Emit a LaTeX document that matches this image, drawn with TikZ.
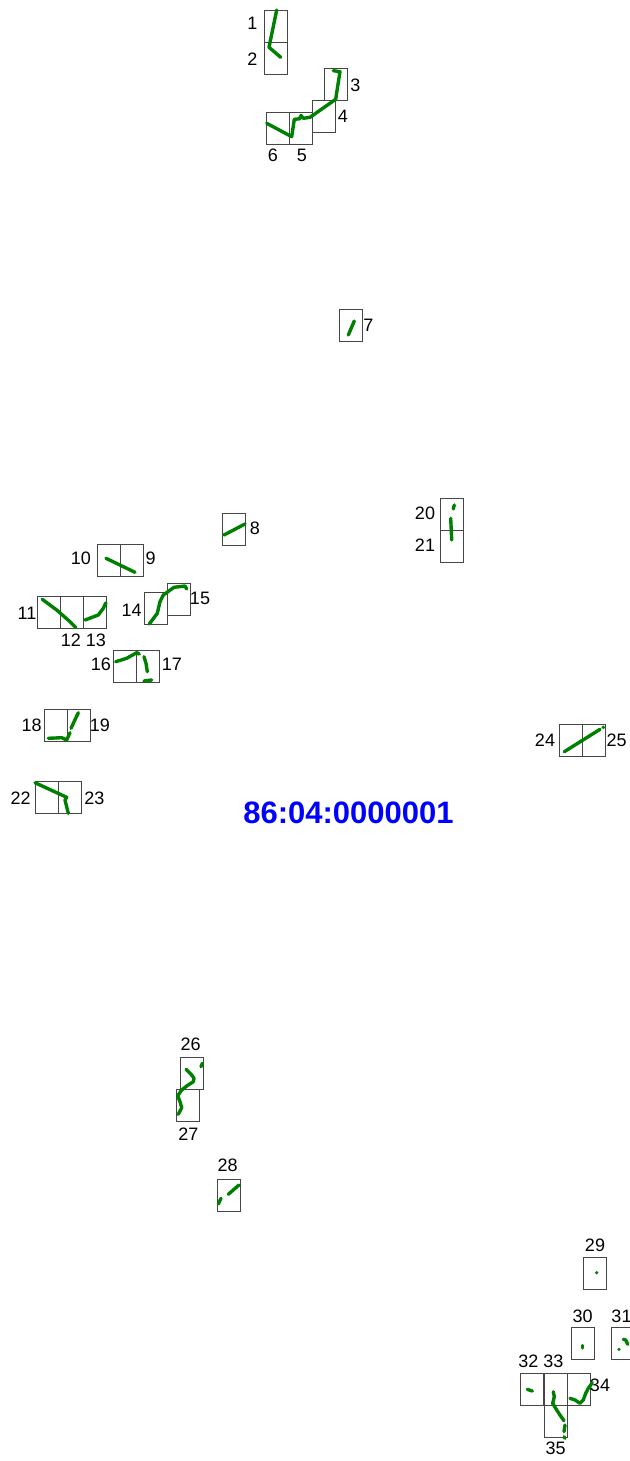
\documentclass[tikz,border=0pt]{standalone}
\usepackage{fontspec}
\setmainfont{Liberation Sans}
\definecolor{trk}{RGB}{0,128,0}
\definecolor{boxline}{RGB}{70,70,70}
\definecolor{idblue}{RGB}{0,0,255}
\tikzset{
  cell/.style={draw=boxline, line width=1pt, rectangle, minimum width=23pt, minimum height=32pt, inner sep=0pt},
  lbl/.style={font=\fontsize{18}{20}\selectfont, inner sep=0pt, text=black},
  track/.style={draw=trk, line width=3.4pt, line cap=round, line join=round},
  tdot/.style={fill=trk},
  idtext/.style={font=\fontsize{31}{35}\selectfont\bfseries, text=idblue, inner sep=0pt}
}
\begin{document}
\begin{tikzpicture}[x=1pt,y=-1pt]
\useasboundingbox (0,0) rectangle (629,1461);
% boxes
\node[cell] (b1) at (275.7,26.2) {};
\node[cell] (b2) at (275.7,58.2) {};
\node[cell] (b3) at (335.5,84.2) {};
\node[cell] (b4) at (324.2,116.3) {};
\node[cell] (b5) at (300.7,128.7) {};
\node[cell] (b6) at (277.8,128.7) {};
\node[cell] (b7) at (350.8,325.3) {};
\node[cell] (b8) at (234,529.2) {};
\node[cell] (b10) at (109,560.2) {};
\node[cell] (b9) at (132,560.2) {};
\node[cell] (b11) at (48.9,612.8) {};
\node[cell] (b12) at (71.9,612.8) {};
\node[cell] (b13) at (94.9,612.8) {};
\node[cell] (b14) at (155.8,608.2) {};
\node[cell] (b15) at (179.2,599.2) {};
\node[cell] (b16) at (124.9,666.5) {};
\node[cell] (b17) at (147.9,666.5) {};
\node[cell] (b18) at (55.8,725.5) {};
\node[cell] (b19) at (78.8,725.5) {};
\node[cell] (b20) at (452,514) {};
\node[cell] (b21) at (452,546.5) {};
\node[cell] (b22) at (46.7,797.5) {};
\node[cell] (b23) at (69.7,797.5) {};
\node[cell] (b24) at (571.3,740.3) {};
\node[cell] (b25) at (594.3,740.3) {};
\node[cell] (b26) at (192,1073) {};
\node[cell] (b27) at (187.7,1105.2) {};
\node[cell] (b28) at (228.7,1195) {};
\node[cell] (b29) at (594.7,1273.7) {};
\node[cell] (b30) at (583,1343.4) {};
\node[cell] (b31) at (622.5,1343.4) {};
\node[cell] (b32) at (532.3,1389.2) {};
\node[cell] (b33) at (555.6,1389.2) {};
\node[cell] (b34) at (578.9,1389.2) {};
\node[cell] (b35) at (555.6,1421.4) {};
% labels
\node[lbl] (l1) at (252.5,23) {1};
\node[lbl] (l2) at (252.5,59) {2};
\node[lbl] (l3) at (355.5,85) {3};
\node[lbl] (l4) at (343,116) {4};
\node[lbl] (l5) at (302,155) {5};
\node[lbl] (l6) at (273,155) {6};
\node[lbl] (l7) at (368.5,325) {7};
\node[lbl] (l8) at (255,528) {8};
\node[lbl] (l9) at (150.7,558) {9};
\node[lbl] (l10) at (81,558) {10};
\node[lbl] (l11) at (27,613) {11};
\node[lbl] (l12) at (71,640.7) {12};
\node[lbl] (l13) at (96,640.7) {13};
\node[lbl] (l14) at (131.7,610) {14};
\node[lbl] (l15) at (200,598) {15};
\node[lbl] (l16) at (101,664) {16};
\node[lbl] (l17) at (172,664) {17};
\node[lbl] (l18) at (31.7,725) {18};
\node[lbl] (l19) at (100,725) {19};
\node[lbl] (l20) at (425,513) {20};
\node[lbl] (l21) at (425,545) {21};
\node[lbl] (l22) at (20.7,798) {22};
\node[lbl] (l23) at (94.3,798) {23};
\node[lbl] (l24) at (545,740) {24};
\node[lbl] (l25) at (616.7,740) {25};
\node[lbl] (l26) at (190.7,1044) {26};
\node[lbl] (l27) at (188.3,1134) {27};
\node[lbl] (l28) at (227.7,1165) {28};
\node[lbl] (l29) at (595,1245) {29};
\node[lbl] (l30) at (582.7,1316.7) {30};
\node[lbl] (l31) at (621.5,1316.7) {31};
\node[lbl] (l32) at (528.3,1361.7) {32};
\node[lbl] (l33) at (553.3,1361.7) {33};
\node[lbl] (l34) at (600,1385) {34};
\node[lbl] (l35) at (555.7,1448.3) {35};
\node[idtext] (id) at (348.5,812.5) {86:04:0000001};
% tracks
\path[track] (276.7,10) -- (269,47.3) -- (280.7,57.3);
\path[track] (333.3,70.7) -- (340,71.7) -- (337,90.7) -- (335.7,99.3) -- (310,117.3) -- (303.3,118.3) -- (301,115.5) -- (299.5,118.8) -- (294.3,119.3) -- (291.7,136.7) -- (266.7,123.3);
\path[track] (354.3,321) -- (348.3,335);
\path[track] (224,535) -- (245,524);
\path[track] (106,558.3) -- (135,572.3);
\path[track] (42.3,599.3) -- (56.7,610) -- (70,621.7) -- (76,627.7);
\path[track] (85,620) -- (98.3,615) -- (103.3,608.3) -- (106,602.7);
\path[track] (149.3,624) -- (157.3,613.3) -- (160,601.7) -- (163.3,595) -- (174,587.3) -- (185,586) -- (186.7,589);
\path[track] (115.7,661.7) -- (126.7,658.3) -- (136.7,652.7) -- (139.3,654);
\path[track] (144,656.7) -- (146,663.3) -- (147.3,671.7);
\path[track] (144,681) -- (151.7,680);
\path[track] (48.3,738.3) -- (61.7,737.7) -- (66.7,740) -- (70,732.7);
\path[track] (71,728.3) -- (78.3,712.7);
\path[track] (454.3,505) -- (453.3,509);
\path[track] (450.7,518.3) -- (451.7,540);
\path[track] (35,782.7) -- (61.7,795) -- (66.7,797.3) -- (65,800) -- (68.3,813.3);
\path[track] (564.3,751.7) -- (600,729.3);
\fill[tdot] (603.3,727.3) circle (1.9);
\path[track] (201,1066.7) -- (202.3,1063.3);
\path[track] (186,1069.3) -- (191.7,1075) -- (194,1078.3) -- (193.3,1081.7) -- (186.7,1086) -- (181.7,1090) -- (177.7,1095.7) -- (180,1101.7) -- (181.7,1107.7) -- (178.3,1114.3);
\path[track] (218.3,1204) -- (221,1198.3);
\path[track] (228.3,1194.3) -- (239,1185);
\fill[tdot] (596.7,1272.7) circle (1.8);
\path[track] (582.7,1345.5) -- (582.7,1348);
\fill[tdot] (619,1349.3) circle (1.8);
\path[track] (623.3,1339.3) -- (625.7,1340) -- (627.7,1344.3);
\path[track] (527.3,1389.3) -- (532.3,1391);
\path[track] (553.3,1391.7) -- (554.3,1396.7) -- (552.7,1403.3) -- (556.7,1410) -- (560,1415) -- (564,1420.7);
\path[track] (565,1425) -- (564,1431.7);
\path[track] (564,1436.7) -- (565,1438.3);
\path[track] (570,1398.3) -- (575,1400) -- (580,1403.3) -- (583.3,1400) -- (585.7,1393.3) -- (588.3,1388.3) -- (592.3,1382.7);
\end{tikzpicture}
\end{document}
